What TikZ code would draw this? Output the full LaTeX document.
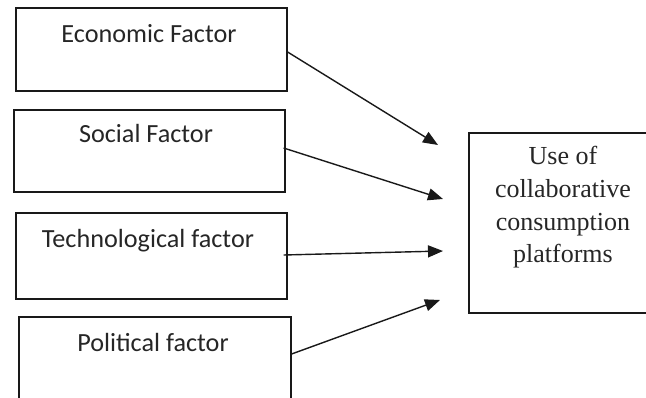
\documentclass[tikz,border=0pt]{standalone}
\usepackage{fontspec}
\setmainfont{Liberation Serif}
\newfontfamily\carlito{Carlito}
\usetikzlibrary{arrows.meta}
\tikzset{
  factorbox/.style={draw=black!90, line width=1.6pt, minimum width=271pt, anchor=north west, inner sep=0pt},
  factortext/.style={anchor=base, font=\carlito\fontsize{26.2}{30}\selectfont, text=black!85, inner sep=0pt},
  conn/.style={line width=1.4pt, draw=black!90, -{Triangle[length=15pt,width=12pt]}},
}
\begin{document}
\begin{tikzpicture}[x=1pt,y=-1pt]
\useasboundingbox (0,0) rectangle (646,398);
\clip (0,0) rectangle (646,398);
\node[factorbox, minimum height=83pt] (eco) at (15,7) {};
\node[factorbox, minimum height=82pt] (soc) at (13,109) {};
\node[factorbox, minimum height=86pt] (tec) at (15,212) {};
\node[factorbox, minimum width=272pt, minimum height=110pt] (pol) at (18,316) {};
\node[factortext] (ecot) at (149,43) {Economic Factor};
\node[factortext] (soct) at (146,143) {Social Factor};
\node[factortext] (tect) at (148,248) {Technological factor};
\node[factortext] (polt) at (153,352) {Political factor};
\node[draw=black!90, line width=1.6pt, anchor=north west, minimum width=192pt, minimum height=180pt, inner sep=0pt] (use) at (468,132) {};
\node[anchor=base, align=center, inner sep=0pt, font=\fontsize{26}{32.7}\selectfont, text=black!85] (uset) at (563,263)
  {Use of\\collaborative\\consumption\\platforms};
\coordinate (t1) at (438,145);
\coordinate (t2) at (443,199);
\coordinate (t3) at (443,251);
\coordinate (t4) at (440,300);
\coordinate (s1) at ([yshift=-45pt]eco.north east);
\coordinate (s2) at ([xshift=-2pt,yshift=-39pt]soc.north east);
\coordinate (s3) at ([xshift=-4pt,yshift=-43pt]tec.north east);
\coordinate (s4) at ([yshift=-38pt]pol.north east);
\draw[conn] (s1) -- (t1);
\draw[conn] (s2) -- (t2);
\draw[conn] (s3) -- (t3);
\draw[conn] (s4) -- (t4);
\end{tikzpicture}
\end{document}
